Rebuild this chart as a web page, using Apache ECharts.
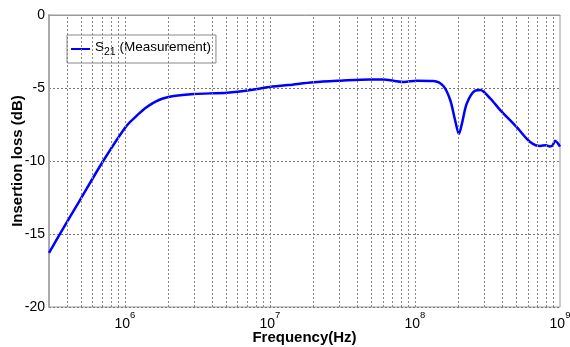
<!DOCTYPE html>
<html>
<head>
<meta charset="utf-8">
<script src="https://cdn.jsdelivr.net/npm/echarts@6/dist/echarts.min.js"></script>
<style>
  html, body { margin: 0; padding: 0; background: #fff; }
  #chart { width: 570px; height: 347px; }
</style>
</head>
<body>
<div id="chart"></div>
<script>
const freq = [3.0e5, 3.53e5, 4.85e5, 7.09e5, 1.016e6, 1.19e6, 1.395e6, 1.72e6, 2.18e6,
  3.0e6, 5.1e6, 7.4e6, 9.6e6, 1.35e7, 2.0e7, 3.06e7, 4.9e7, 6.1e7, 7.1e7, 8.4e7, 1.03e8,
  1.34e8, 1.57e8, 1.75e8, 1.89e8, 2.01e8, 2.11e8, 2.28e8, 2.6e8, 2.82e8, 3.3e8, 3.87e8,
  5.0e8, 6.2e8, 7.3e8, 8.0e8, 8.5e8, 8.9e8, 9.25e8, 9.6e8, 1.0e9]
const s21 = [-16.3, -15.07, -12.76, -10.0, -7.65, -6.96, -6.35, -5.82, -5.55,
  -5.41, -5.32, -5.14, -4.95, -4.8, -4.61, -4.5, -4.41, -4.41, -4.5, -4.59, -4.5,
  -4.52, -4.86, -5.82, -7.19, -8.15, -7.42, -6.05, -5.18, -5.14, -5.71, -6.51,
  -7.65, -8.68, -8.97, -8.92, -9.0, -8.93, -8.61, -8.75, -9.02]

// dotted vertical grid lines at 1..9 x 10^n
const gridFreqs = [4e5, 5e5, 6e5, 7e5, 8e5, 9e5,
  1e6, 2e6, 3e6, 4e6, 5e6, 6e6, 7e6, 8e6, 9e6,
  1e7, 2e7, 3e7, 4e7, 5e7, 6e7, 7e7, 8e7, 9e7,
  1e8, 2e8, 3e8, 4e8, 5e8, 6e8, 7e8, 8e8, 9e8]

const myChart = echarts.init(document.getElementById('chart'))
const font = '"Liberation Sans", Arial, sans-serif'

const option = {
  animation: false,
  textStyle: { fontFamily: font },
  grid: {
    left: 49, right: 10, top: 15, bottom: 40,
    outerBoundsMode: 'none',
    show: true,
    borderColor: '#9a9a9a',
    borderWidth: 1,
  },
  legend: {
    left: 67,
    top: 35,
    padding: [5, 5, 5, 4],
    backgroundColor: '#fff',
    borderColor: '#888',
    borderWidth: 1,
    borderRadius: 0,
    icon: 'rect',
    itemWidth: 19,
    itemHeight: 2,
    itemGap: 4,
    data: ['S21'],
    formatter: () => '{b|S}{sub|21}{b| (Measurement)}',
    textStyle: {
      fontFamily: font,
      rich: {
        b: { fontSize: 13.5, color: '#000', lineHeight: 18, verticalAlign: 'top', fontFamily: font },
        sub: { fontSize: 10.5, color: '#000', lineHeight: 12, verticalAlign: 'bottom', fontFamily: font },
      },
    },
  },
  xAxis: {
    type: 'log',
    logBase: 10,
    min: 3e5,
    max: 1e9,
    name: 'Frequency(Hz)',
    nameLocation: 'middle',
    nameGap: 23,
    nameMoveOverlap: false,
    nameTextStyle: { fontFamily: font, fontSize: 15, fontWeight: 'bold', color: '#000' },
    axisLine: { show: true, lineStyle: { color: '#9a9a9a', width: 1 } },
    axisTick: { show: false },
    splitLine: { show: false },
    axisLabel: {
      margin: 3,
      showMinLabel: false,
      formatter: (v) => {
        const e = Math.round(Math.log10(v))
        if (Math.abs(v - Math.pow(10, e)) / v > 1e-6) return ''
        return '{b|10}{s|' + e + '}'
      },
      rich: {
        b: { fontSize: 14, color: '#000', lineHeight: 21, verticalAlign: 'bottom', fontFamily: font },
        s: { fontSize: 9.5, color: '#000', lineHeight: 21, verticalAlign: 'top', fontFamily: font },
      },
    },
  },
  yAxis: {
    type: 'value',
    min: -20,
    max: 0,
    interval: 5,
    name: 'Insertion loss (dB)',
    nameLocation: 'middle',
    nameGap: 24,
    nameMoveOverlap: false,
    nameTextStyle: { fontFamily: font, fontSize: 15, fontWeight: 'bold', color: '#000' },
    axisLine: { show: true, lineStyle: { color: '#aaaaaa', width: 2 } },
    axisTick: { show: false },
    axisLabel: { fontSize: 14, color: '#000', margin: 4, fontFamily: font },
    splitLine: { show: true, lineStyle: { color: '#777', type: [2, 2], width: 1 } },
  },
  series: [
    {
      name: 'grid',
      type: 'line',
      data: [],
      z: 1,
      markLine: {
        silent: true,
        symbol: ['none', 'none'],
        label: { show: false },
        lineStyle: { color: '#888', type: [2, 2], width: 1 },
        data: gridFreqs.map((f) => ({ xAxis: f })),
      },
    },
    {
      name: 'S21',
      type: 'line',
      z: 3,
      smooth: 0.3,
      showSymbol: false,
      color: '#0000ff',
      lineStyle: { width: 2.5, color: '#0000ff' },
      data: freq.map((f, i) => [f, s21[i]]),
    },
  ],
}

myChart.setOption(option)
</script>
</body>
</html>
